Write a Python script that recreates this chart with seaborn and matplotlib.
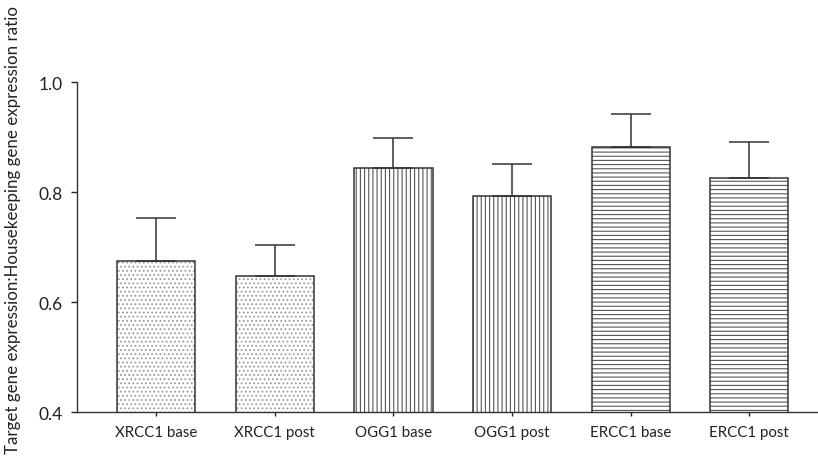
import numpy as np
import pandas as pd
import seaborn as sns
import matplotlib.pyplot as plt

# values
labels = ["XRCC1 base", "XRCC1 post", "OGG1 base", "OGG1 post", "ERCC1 base", "ERCC1 post"]
means = [0.675, 0.647, 0.844, 0.793, 0.882, 0.825]
upper = [0.753, 0.704, 0.898, 0.851, 0.942, 0.891]
hatches = ["....", "....", "||||", "||||", "----", "----"]

df = pd.DataFrame({"group": labels, "ratio": means})
err = np.array(upper) - np.array(means)

sns.set_style("ticks")
plt.rcParams["font.family"] = ["Lato", "DejaVu Sans"]
plt.rcParams["hatch.linewidth"] = 0.8

fig = plt.figure(figsize=(8.18, 4.64), dpi=100)
ax = fig.add_axes([0.0941, 0.1099, 0.9046, 0.7112])

# hatched fill (hatch takes the edge colour)
sns.barplot(data=df, x="group", y="ratio", color="white", edgecolor="#555555",
            linewidth=0, width=0.66, errorbar=None, ax=ax)
for patch, h in zip(ax.patches, hatches):
    patch.set_hatch(h)
    if h.startswith("."):
        patch.set_edgecolor("#9a9a9a")

# dark outlines drawn on top
sns.barplot(data=df, x="group", y="ratio", fill=False, edgecolor="#333333",
            linewidth=1.1, width=0.66, errorbar=None, ax=ax)

# upper-only error bars
ax.errorbar(np.arange(len(labels)), means, yerr=[np.zeros(len(err)), err],
            fmt="none", ecolor="#333333", elinewidth=1.1, capsize=14.4,
            capthick=1.1, zorder=1)

ax.set_ylim(0.4, 1.0)
ax.set_xlim(-0.667, 5.57)
ax.set_yticks([0.4, 0.6, 0.8, 1.0])
ax.set_yticklabels(["0.4", "0.6", "0.8", "1.0"])
ax.set_xlabel("")
ax.set_ylabel("Target gene expression:Housekeeping gene expression ratio",
              fontsize=12.2, color="#222222")
ax.yaxis.set_label_coords(-0.076, 0.555)
ax.tick_params(axis="both", colors="#222222", length=4, width=1)
ax.tick_params(axis="y", labelsize=12.5, pad=6)
ax.tick_params(axis="x", labelsize=10.8, length=3, pad=6)
for side in ["top", "right"]:
    ax.spines[side].set_visible(False)
for side in ["left", "bottom"]:
    ax.spines[side].set_color("#333333")
    ax.spines[side].set_linewidth(1)

fig.savefig("out.png", dpi=100)
